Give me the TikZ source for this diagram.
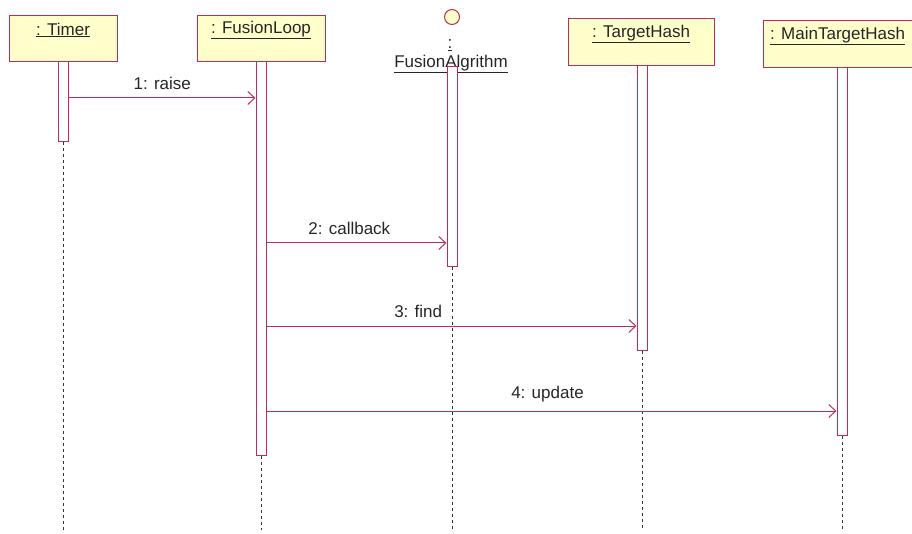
\documentclass[tikz,border=0pt]{standalone}
\usepackage{fontspec}
\setmainfont{Liberation Sans}
\usetikzlibrary{arrows.meta}
\definecolor{umlline}{RGB}{185,45,90}
\definecolor{umlfill}{RGB}{255,255,204}
\begin{document}
\begin{tikzpicture}[x=1pt,y=-1pt,
  objbox/.style={draw=umlline,fill=umlfill,line width=1pt,inner sep=0pt},
  lbl/.style={inner sep=0pt,font=\fontsize{17}{19}\selectfont,text=black!85},
  actbox/.style={draw=umlline,fill=white,line width=1pt,minimum width=10pt,inner sep=0pt},
  life/.style={draw=black!80,line width=0.8pt,dash pattern=on 3pt off 3pt},
  msg/.style={draw=umlline,line width=1pt,-{Straight Barb[length=7pt,width=13pt,line width=1pt]}}]
\useasboundingbox (0,0) rectangle (912,534);
% object boxes
\node[objbox,minimum width=108pt,minimum height=46pt] (timer) at (63,39) {};
\node[objbox,minimum width=128pt,minimum height=46pt] (loop) at (261,39) {};
\node[objbox,minimum width=146pt,minimum height=47pt] (thash) at (641,42.5) {};
\node[objbox,minimum width=158pt,minimum height=47pt] (mthash) at (842,44.5) {};
\node[draw=umlline,fill=umlfill,line width=1pt,circle,minimum size=15pt,inner sep=0pt] (falg) at (452,17) {};
% labels
\node[lbl] (timerl) at (63,30) {\underline{: Timer}};
\node[lbl] (loopl) at (261,30) {\underline{: FusionLoop}};
\node[lbl] (thashl) at (641,34) {\underline{: TargetHash}};
\node[lbl,anchor=west] (mthashl) at (770,36) {\underline{: MainTargetHash}};
\node[lbl] (falgc) at (450,45) {\underline{:}};
\node[lbl] (falgl) at (451,64) {\underline{FusionAlgrithm}};
% activations
\node[actbox,minimum height=80pt] (timera) at (63.5,102) {};
\node[actbox,minimum height=393pt] (loopa) at (261,258.5) {};
\node[actbox,minimum height=200pt] (falga) at (452,167) {};
\node[actbox,minimum height=284pt] (thasha) at (642,208) {};
\node[actbox,minimum height=367pt] (mthasha) at (842,251.5) {};
% lifelines
\coordinate (e1) at (63.5,530);
\coordinate (e2) at (261,530);
\coordinate (e3) at (452,530);
\coordinate (e4) at (642,530);
\coordinate (e5) at (842,530);
\draw[life] (timera.south) -- (e1);
\draw[life] (loopa.south) -- (e2);
\draw[life] (falga.south) -- (e3);
\draw[life] (thasha.south) -- (e4);
\draw[life] (mthasha.south) -- (e5);
% messages
\draw[msg] (timera.east |- 0,98) -- node[lbl,above=8pt,pos=0.5] (m1) {1: raise} (loopa.west |- 0,98);
\draw[msg] (loopa.east |- 0,243) -- node[lbl,above=8pt,pos=0.46] (m2) {2: callback} (falga.west |- 0,243);
\draw[msg] (loopa.east |- 0,326) -- node[lbl,above=8pt,pos=0.41] (m3) {3: find} (thasha.west |- 0,326);
\draw[msg] (loopa.east |- 0,411) -- node[lbl,above=8pt,pos=0.493] (m4) {4: update} (mthasha.west |- 0,411);
\end{tikzpicture}
\end{document}
